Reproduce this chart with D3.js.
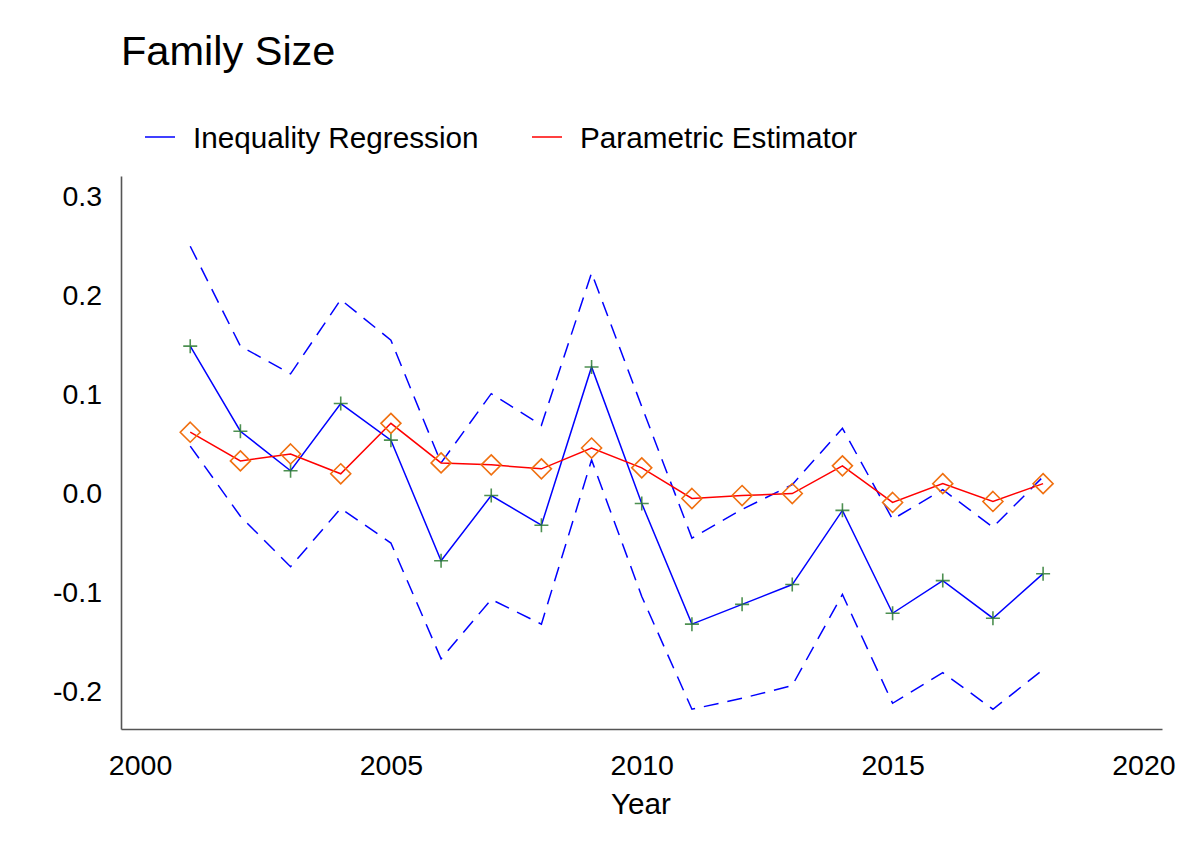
<!DOCTYPE html>
<html>
<head>
<meta charset="utf-8">
<script src="https://cdn.jsdelivr.net/npm/d3@7"></script>
<style>
  html, body { margin: 0; padding: 0; background: #fff; }
  svg { display: block; font-family: "Liberation Sans", Arial, sans-serif; }
</style>
</head>
<body>
<svg id="chart" width="1193" height="868"></svg>
<script>
const years = [2001,2002,2003,2004,2005,2006,2007,2008,2009,2010,2011,2012,2013,2014,2015,2016,2017,2018];
const ineqMean  = [0.149,0.063,0.023,0.091,0.054,-0.068,-0.002,-0.032,0.128,-0.010,-0.132,-0.112,-0.092,-0.017,-0.121,-0.088,-0.126,-0.081];
const ineqUpper = [0.250,0.149,0.121,0.196,0.155,0.031,0.101,0.069,0.223,0.088,-0.045,-0.016,0.009,0.066,-0.026,0.004,-0.034,0.017];
const ineqLower = [0.048,-0.023,-0.074,-0.015,-0.050,-0.167,-0.107,-0.132,0.034,-0.104,-0.218,-0.207,-0.194,-0.102,-0.212,-0.181,-0.218,-0.178];
const paramEst  = [0.062,0.033,0.040,0.020,0.071,0.031,0.029,0.025,0.046,0.026,-0.005,-0.002,0.000,0.028,-0.009,0.010,-0.008,0.010];
const xTicks = [2000,2005,2010,2015,2020];
const yTicks = [-0.2,-0.1,0.0,0.1,0.2,0.3];
const seriesNames = ["Inequality Regression","Parametric Estimator"];

const svg = d3.select("#chart");
svg.append("rect").attr("width",1193).attr("height",868).attr("fill","#fff");

const x = d3.scaleLinear().domain([1999.62, 2020.37]).range([121, 1162]);
const y = d3.scaleLinear().domain([-0.238, 0.321]).range([729, 176]);

const fontSize = 28.5;
const legendSize = 29.7;

// axes
const xAxis = d3.axisBottom(x).tickValues(xTicks).tickFormat(d => String(d))
  .tickSize(0).tickPadding(26);
const gx = svg.append("g").attr("transform","translate(0,729)").call(xAxis);
const yAxis = d3.axisLeft(y).tickValues(yTicks).tickFormat(d => d.toFixed(1))
  .tickSize(0).tickPadding(19);
const gy = svg.append("g").attr("transform","translate(121,0)").call(yAxis);
[gx, gy].forEach(g => {
  g.select(".domain").attr("stroke","#555").attr("stroke-width",1.6);
  g.selectAll("text").attr("font-size",fontSize).attr("fill","#000")
    .attr("font-family",'"Liberation Sans", Arial, sans-serif');
});

// title
svg.append("text").attr("x",121).attr("y",65).attr("font-size",41.5).attr("fill","#000").text("Family Size");

// axis label
svg.append("text").attr("x",641).attr("y",814).attr("text-anchor","middle")
  .attr("font-size",legendSize).attr("fill","#000").text("Year");

// legend
const legend = [
  {name: seriesNames[0], color: "#0000ff", x0: 145},
  {name: seriesNames[1], color: "#ff0000", x0: 532}
];
legend.forEach(l => {
  svg.append("line").attr("x1",l.x0).attr("x2",l.x0+30).attr("y1",137).attr("y2",137)
    .attr("stroke",l.color).attr("stroke-width",1.5);
  svg.append("text").attr("x",l.x0+48).attr("y",148).attr("font-size",legendSize).attr("fill","#000").text(l.name);
});

const line = arr => d3.line().x((d,i) => x(years[i])).y(d => y(d))(arr);

// CI dashed
[ineqUpper, ineqLower].forEach(arr => {
  svg.append("path").attr("d", line(arr)).attr("fill","none")
    .attr("stroke","#0000ff").attr("stroke-width",1.5).attr("stroke-dasharray","15,9");
});

// mean line
svg.append("path").attr("d", line(ineqMean)).attr("fill","none")
  .attr("stroke","#0000ff").attr("stroke-width",1.5);

// plus markers
const plusG = svg.append("g");
ineqMean.forEach((v,i) => {
  const cx = x(years[i]), cy = y(v), s = 7;
  plusG.append("path").attr("d",`M${cx-s},${cy}H${cx+s}M${cx},${cy-s}V${cy+s}`)
    .attr("stroke","#2e7d32").attr("stroke-width",1.6).attr("fill","none").attr("opacity",0.85);
});

// param line
svg.append("path").attr("d", line(paramEst)).attr("fill","none")
  .attr("stroke","#ff0000").attr("stroke-width",1.5);

// diamonds
const dG = svg.append("g");
paramEst.forEach((v,i) => {
  const cx = x(years[i]), cy = y(v), s = 10;
  dG.append("path").attr("d",`M${cx},${cy-s}L${cx+s},${cy}L${cx},${cy+s}L${cx-s},${cy}Z`)
    .attr("stroke","#f07010").attr("stroke-width",1.6).attr("fill","none");
});
</script>
</body>
</html>
